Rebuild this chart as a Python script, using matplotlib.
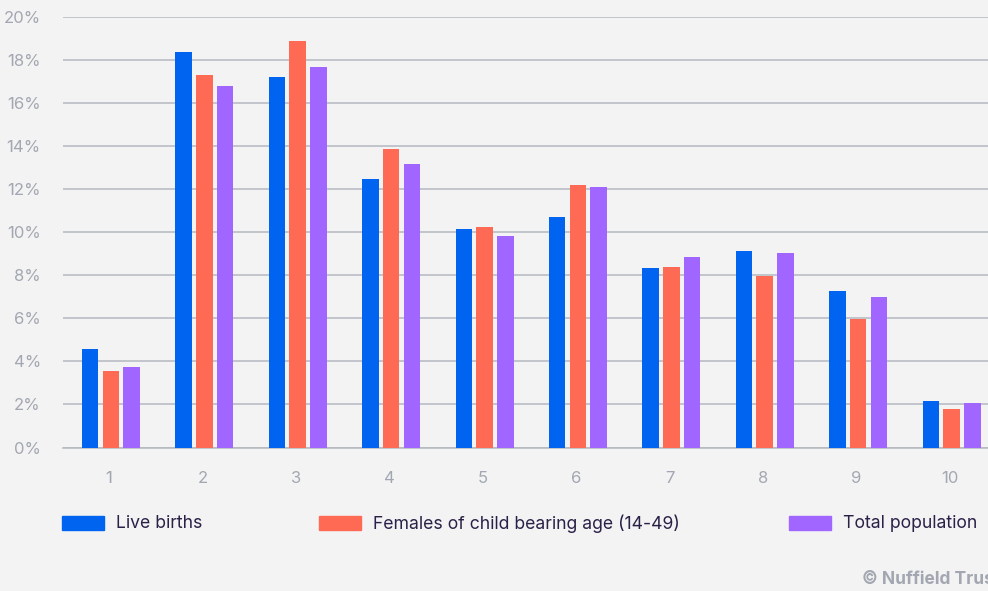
import numpy as np
import matplotlib
matplotlib.use("Agg")
import matplotlib.pyplot as plt
from matplotlib.patches import Rectangle

categories = ["1", "2", "3", "4", "5", "6", "7", "8", "9", "10"]
live_births = [4.55, 18.35, 17.2, 12.45, 10.15, 10.7, 8.32, 9.1, 7.27, 2.16]
females_14_49 = [3.57, 17.3, 18.88, 13.85, 10.22, 12.2, 8.4, 7.95, 5.97, 1.8]
total_population = [3.75, 16.77, 17.65, 13.15, 9.8, 12.1, 8.83, 9.02, 7.0, 2.07]

series = [
    ("Live births", live_births, "#0064f0"),
    ("Females of child bearing age (14-49)", females_14_49, "#ff6a55"),
    ("Total population", total_population, "#a066ff"),
]

BG = "#f3f3f3"
GRID = "#b4b7bf"
TICK = "#a3a7b1"
TEXT = "#2b2148"

plt.rcParams["font.family"] = ["Inter", "DejaVu Sans"]

W, H = 988, 591
fig = plt.figure(figsize=(W / 100, H / 100), dpi=100, facecolor=BG)
# axes box in pixel coordinates: left 63, right 988, top 16.7, bottom 447.5
ax = fig.add_axes([63 / W, 1 - 447.5 / H, (988 - 63) / W, (447.5 - 16.7) / H])
ax.set_facecolor(BG)

x = np.arange(1, len(categories) + 1)
width = 0.177
step = 0.222
for i, (label, vals, color) in enumerate(series):
    ax.bar(x + (i - 1) * step, vals, width=width, color=color, zorder=3)

ax.set_ylim(0, 20)
ax.set_xlim(0.487, 10.39)
ax.set_yticks(np.arange(0, 21, 2))
ax.set_yticklabels([f"{v}%" for v in range(0, 21, 2)])
ax.set_xticks(x - 0.02)
ax.set_xticklabels(categories)
ax.yaxis.grid(True, color=GRID, linewidth=1.1, zorder=0)
ax.set_axisbelow(True)
for s in ["top", "right", "left"]:
    ax.spines[s].set_visible(False)
ax.spines["bottom"].set_color(GRID)
ax.spines["bottom"].set_linewidth(1.1)
ax.tick_params(axis="both", length=0, colors=TICK, labelsize=12)
ax.tick_params(axis="y", pad=16)
ax.tick_params(axis="x", pad=17)

# legend drawn by hand to match spacing
legend_x = [62, 319, 789]
for (label, vals, color), lx in zip(series, legend_x):
    fig.add_artist(Rectangle((lx / W, 1 - 530 / H), 42 / W, 14 / H,
                             transform=fig.transFigure, color=color))
    fig.text((lx + 54) / W, 1 - 523.5 / H, label, color=TEXT,
             fontsize=12.7, va="center", ha="left")

fig.text(862 / W, 1 - 580 / H, "© Nuffield Trust", color=TICK,
         fontsize=12.5, fontweight="bold", va="center", ha="left")

fig.savefig("out.png", dpi=100, facecolor=BG)
